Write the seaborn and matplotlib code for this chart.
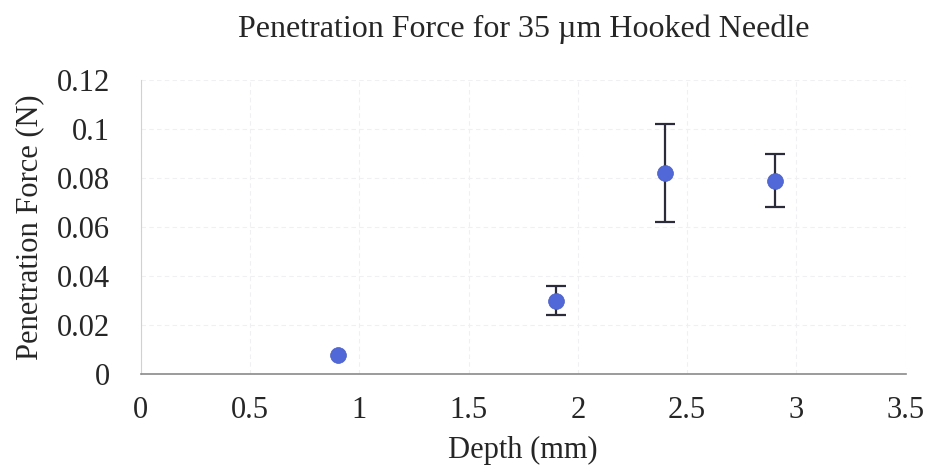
import numpy as np
import pandas as pd
import seaborn as sns
import matplotlib.pyplot as plt

# values
depth = [0.9, 1.9, 2.4, 2.9]
force = [0.0078, 0.030, 0.082, 0.079]
force_err = [0.0, 0.006, 0.020, 0.011]

df = pd.DataFrame({'depth': depth, 'force': force, 'err': force_err})

sns.set_style('white')
plt.rcParams['font.family'] = ['Liberation Serif', 'DejaVu Serif']

fig = plt.figure(figsize=(9.27, 4.74), dpi=100)
ax = fig.add_axes([0.152, 0.211, 0.825, 0.62])

# error bars first (only where there is a spread), then the points on top
eb = df[df['err'] > 0]
ax.errorbar(eb['depth'], eb['force'], yerr=eb['err'], fmt='none',
            ecolor='#2b2b3a', elinewidth=1.6, capsize=7, capthick=1.6, zorder=2)
sns.scatterplot(data=df, x='depth', y='force', ax=ax, s=130,
                color='#5068d8', edgecolor='#4a5cc0', linewidth=0.5, zorder=3)

ax.set_xlim(0, 3.5)
ax.set_ylim(0, 0.12)
ax.set_xticks(np.arange(0, 3.51, 0.5))
ax.set_xticklabels(['0', '0.5', '1', '1.5', '2', '2.5', '3', '3.5'])
ax.set_yticks(np.arange(0, 0.121, 0.02))
ax.set_yticklabels(['0', '0.02', '0.04', '0.06', '0.08', '0.1', '0.12'])
ax.tick_params(axis='both', labelsize=22, length=0)
ax.tick_params(axis='y', pad=22)
ax.tick_params(axis='x', pad=16)

ax.grid(True, color='#f0f0f3', linestyle=(0, (4, 3)), linewidth=0.8)
for s in ['top', 'right']:
    ax.spines[s].set_visible(False)
ax.spines['left'].set_color('#d0d0dc')
ax.spines['bottom'].set_color('#8a8a8a')
ax.spines['bottom'].set_linewidth(1.2)

ax.set_xlabel('Depth (mm)', fontsize=22, labelpad=8)
ax.set_ylabel('Penetration Force (N)', fontsize=22, labelpad=9)
ax.set_title('Penetration Force for 35 \u00b5m Hooked Needle', fontsize=23, pad=31)

fig.savefig('out.png', dpi=100)
